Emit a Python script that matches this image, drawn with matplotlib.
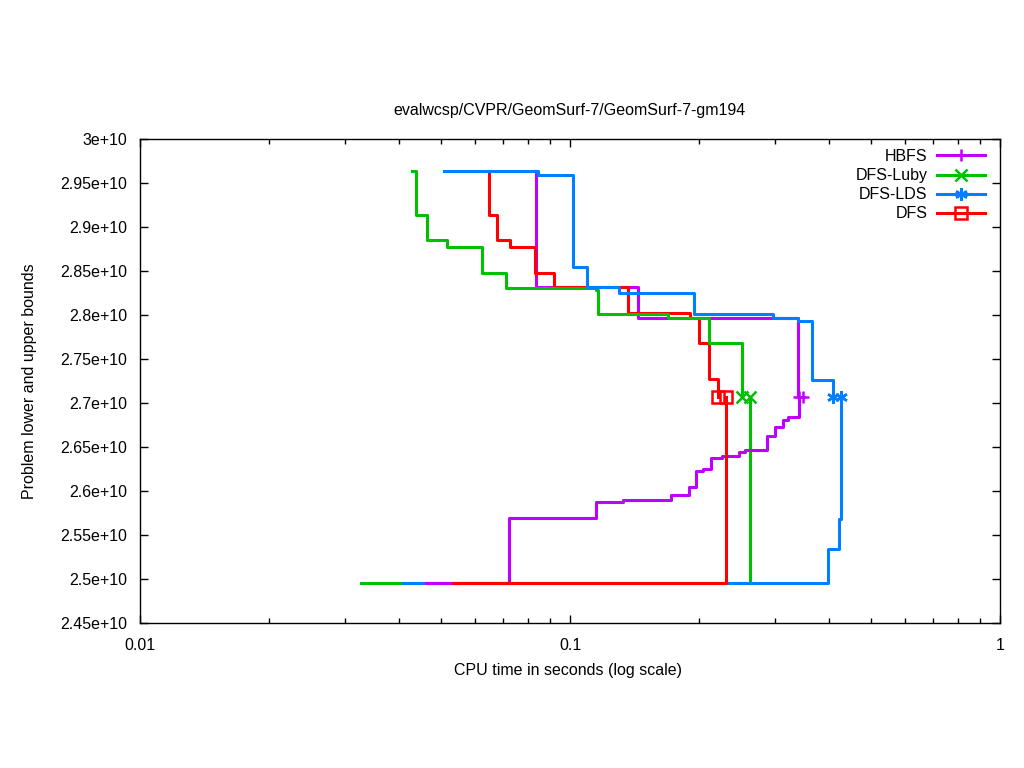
import matplotlib
matplotlib.use("Agg")
import matplotlib.pyplot as plt
from matplotlib.lines import Line2D
from matplotlib.ticker import FixedLocator, FuncFormatter, LogLocator, NullFormatter

plt.rcParams['font.family'] = ['Liberation Sans', 'DejaVu Sans']
FS = 11.5
plt.rcParams['font.size'] = FS

title = "evalwcsp/CVPR/GeomSurf-7/GeomSurf-7-gm194"
xlabel = "CPU time in seconds (log scale)"
ylabel = "Problem lower and upper bounds"

solvers = ["HBFS", "DFS-Luby", "DFS-LDS", "DFS"]
colors = ["#c000ff", "#00c000", "#0080ff", "#ff0000"]
markers = ["+", "x", (6, 2, 0), "s"]

# HBFS
hbfs_up_t = [0.08336, 0.08336, 0.1439, 0.3390, 0.3482]
hbfs_up_v = [2.9636e10, 2.8318e10, 2.7966e10, 2.7068e10, 2.7068e10]
hbfs_lo_t = [0.04625, 0.07213, 0.1149, 0.1329, 0.1717, 0.1891, 0.1968, 0.2038, 0.2128,
             0.2257, 0.2472, 0.2553, 0.2872, 0.2998, 0.3129, 0.3214, 0.3409]
hbfs_lo_v = [2.4955e10, 2.5693e10, 2.5875e10, 2.5898e10, 2.5955e10, 2.6045e10, 2.6227e10,
             2.6250e10, 2.6375e10, 2.6398e10, 2.6443e10, 2.6466e10, 2.6625e10, 2.6727e10,
             2.6807e10, 2.6841e10, 2.7068e10]

# DFS-Luby
luby_up_t = [0.04291, 0.04384, 0.04650, 0.05176, 0.06243, 0.07098, 0.1149, 0.1162,
             0.1690, 0.2105, 0.2512]
luby_up_v = [2.9636e10, 2.9136e10, 2.8852e10, 2.8773e10, 2.8477e10, 2.8307e10, 2.8284e10,
             2.8011e10, 2.7966e10, 2.7682e10, 2.7068e10]
luby_lo_t = [0.03266, 0.2622]
luby_lo_v = [2.4955e10, 2.7068e10]

# DFS-LDS
lds_up_t = [0.05093, 0.08425, 0.1016, 0.1095, 0.1300, 0.1943, 0.2966, 0.3390, 0.3655, 0.4089]
lds_up_v = [2.9636e10, 2.9591e10, 2.8545e10, 2.8318e10, 2.8250e10, 2.8011e10, 2.7966e10,
            2.7932e10, 2.7261e10, 2.7068e10]
lds_lo_t = [0.04089, 0.3981, 0.4223, 0.4268]
lds_lo_v = [2.4955e10, 2.5341e10, 2.5682e10, 2.7068e10]

# DFS
dfs_up_t = [0.06481, 0.06481, 0.06766, 0.07252, 0.08290, 0.09181, 0.1364, 0.1901, 0.1995,
            0.2105, 0.2209]
dfs_up_v = [2.9636e10, 2.9136e10, 2.8852e10, 2.8773e10, 2.8477e10, 2.8318e10, 2.8023e10,
            2.7966e10, 2.7682e10, 2.7273e10, 2.7068e10]
dfs_lo_t = [0.05343, 0.2306]
dfs_lo_v = [2.4955e10, 2.7068e10]

x_ticks = [0.01, 0.1, 1]
x_ticklabels = ["0.01", "0.1", "1"]
y_ticks = [2.45e10, 2.5e10, 2.55e10, 2.6e10, 2.65e10, 2.7e10, 2.75e10, 2.8e10, 2.85e10,
           2.9e10, 2.95e10, 3e10]

fig = plt.figure(figsize=(10.24, 7.68), dpi=100)
ax = fig.add_axes([140/1024, 1-623/768, 860/1024, 484/768])

series = [
    (hbfs_up_t, hbfs_up_v, hbfs_lo_t, hbfs_lo_v),
    (luby_up_t, luby_up_v, luby_lo_t, luby_lo_v),
    (lds_up_t, lds_up_v, lds_lo_t, lds_lo_v),
    (dfs_up_t, dfs_up_v, dfs_lo_t, dfs_lo_v),
]
lo_z = [2.2, 2.0, 2.1, 2.3]
up_z = [2.4, 2.6, 2.7, 2.5]
lw = 2.2
ms = 9
mew = 1.8
for i, (ut, uv, lt, lv) in enumerate(series):
    c = colors[i]
    m = markers[i]
    ax.plot(lt, lv, drawstyle='steps-post', color=c, lw=lw, zorder=lo_z[i])
    ax.plot(ut, uv, drawstyle='steps-post', color=c, lw=lw, zorder=up_z[i])
    mfc = 'none' if m == 's' else c
    ax.plot([lt[-1]], [lv[-1]], linestyle='none', marker=m, ms=ms, mew=mew,
            color=c, mfc=mfc, zorder=lo_z[i] + 1)
    ax.plot([ut[-1]], [uv[-1]], linestyle='none', marker=m, ms=ms, mew=mew,
            color=c, mfc=mfc, zorder=up_z[i] + 1)

ax.set_xscale('log')
ax.set_xlim(0.01, 1)
ax.set_ylim(2.45e10, 3e10)
ax.xaxis.set_major_locator(FixedLocator(x_ticks))
ax.xaxis.set_major_formatter(FuncFormatter(lambda v, p: x_ticklabels[x_ticks.index(v)] if v in x_ticks else ""))
ax.xaxis.set_minor_locator(LogLocator(base=10, subs=range(2, 10)))
ax.xaxis.set_minor_formatter(NullFormatter())
ax.yaxis.set_major_locator(FixedLocator(y_ticks))
ax.yaxis.set_major_formatter(FuncFormatter(lambda v, p: f"{v/1e10:g}e+10"))

ax.tick_params(which='both', direction='in', top=True, right=True, width=1, color='black',
               labelsize=FS)
ax.tick_params(which='major', length=6)
ax.tick_params(which='minor', length=3.5)
ax.tick_params(axis='y', which='major', pad=9)
ax.tick_params(axis='x', which='major', pad=11)
for s in ax.spines.values():
    s.set_linewidth(1)

fig.text(570/1024, 1-110/768, title, ha='center', va='center', fontsize=FS)
fig.text(568/1024, 1-670/768, xlabel, ha='center', va='center', fontsize=FS)
fig.text(30/1024, 1-381/768, ylabel, ha='center', va='center', rotation=90, fontsize=FS)

handles = []
for i in range(4):
    mfc = 'none' if markers[i] == 's' else colors[i]
    handles.append(Line2D([], [], color=colors[i], lw=lw, marker=markers[i], ms=ms,
                          mew=mew, mfc=mfc))
leg = ax.legend(handles, solvers, loc='upper right',
                bbox_to_anchor=((985-140)/860, (623-149)/484),
                frameon=False, markerfirst=False, borderaxespad=0, borderpad=0,
                handlelength=3.0, handletextpad=0.6, labelspacing=0.26, numpoints=1,
                fontsize=FS)

fig.savefig("out.png", dpi=100)
